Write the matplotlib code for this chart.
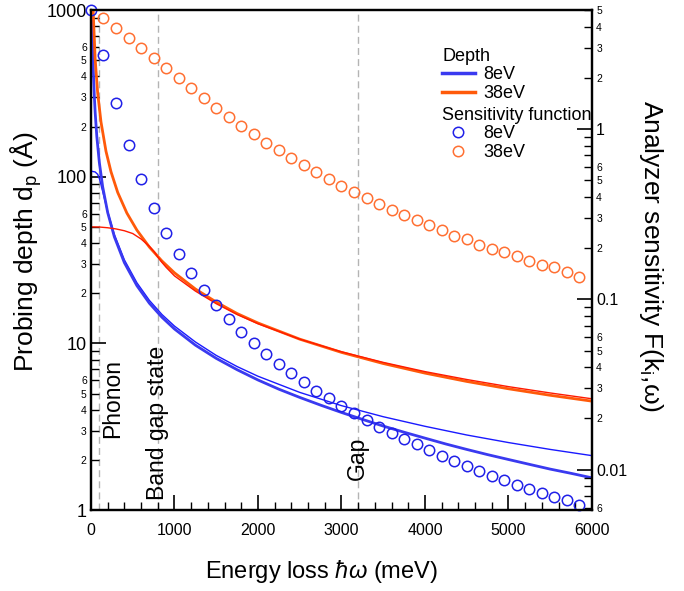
import numpy as np
import matplotlib
matplotlib.use("Agg")
from matplotlib import pyplot as plt
from matplotlib.ticker import MultipleLocator, LogLocator, FuncFormatter
from matplotlib.lines import Line2D

plt.rcParams['font.family'] = ['Liberation Sans', 'DejaVu Sans']
plt.rcParams['mathtext.fontset'] = 'custom'
plt.rcParams['mathtext.rm'] = 'Liberation Sans'
plt.rcParams['mathtext.it'] = 'Liberation Sans:italic'

# depth curves (left axis, Angstrom)
e_d8 = [10, 15, 20, 30, 40, 50, 70, 100, 140, 200, 280, 400, 550, 700, 850, 1000,
        1250, 1500, 1750, 2000, 2250, 2500, 2750, 3000, 3250, 3500, 3750, 4000,
        4250, 4500, 4750, 5000, 5250, 5500, 5750, 6000]
d8_thick = [1220, 813, 610, 407, 305, 244, 174, 122, 87.1, 61, 43.6, 30.5, 22.2, 17.4, 14.35, 12.2,
            9.76, 8.13, 6.95, 6.03, 5.31, 4.74, 4.26, 3.85, 3.50, 3.19, 2.93, 2.70,
            2.49, 2.31, 2.15, 2.01, 1.88, 1.76, 1.66, 1.56]

e_t8 = [0, 50, 80, 100, 120, 140, 170, 200, 280, 400, 550, 700, 850, 1000, 1250, 1500,
        1750, 2000, 2500, 3000, 3500, 4000, 4500, 5000, 5500, 6000]
d8_thin = [108, 106.8, 103.4, 97.6, 89.7, 81.7, 70.8, 61.7, 45.0, 31.7, 23.1, 18.1, 14.9, 12.7, 10.2, 8.47,
           7.26, 6.35, 5.08, 4.23, 3.63, 3.18, 2.82, 2.54, 2.31, 2.12]

e_d38 = [25, 50, 80, 120, 180, 240, 320, 430, 550, 700, 850, 1000, 1250, 1500, 1750, 2000,
         2500, 3000, 3500, 4000, 4500, 5000, 5500, 6000]
d38_thick = [1020, 510, 319, 213, 142, 107, 80.5, 60.5, 47.8, 37.8, 31.2, 26.5, 21.2, 17.7, 15.1, 13.25,
             10.6, 8.83, 7.57, 6.63, 5.91, 5.34, 4.88, 4.5]

e_t38 = [0, 100, 200, 300, 400, 500, 600, 700, 760, 800, 850, 900, 1000, 1250, 1500, 1750,
         2000, 2500, 3000, 3500, 4000, 4500, 5000, 5500, 6000]
d38_thin = [50, 49.9, 49.4, 48.6, 47.4, 45.6, 42.3, 38.2, 35.3, 33.0, 30.6, 28.6, 25.4, 20.6, 17.3, 14.9,
            13.12, 10.6, 8.9, 7.69, 6.77, 6.07, 5.5, 5.04, 4.65]

# sensitivity function (right axis)
e_sens = np.arange(0, 5851, 150)
sens_8 = [5.0, 2.74, 1.43, 0.811, 0.507, 0.344, 0.246, 0.184, 0.142, 0.114,
          0.0929, 0.0768, 0.0647, 0.0552, 0.0480, 0.0419, 0.0369, 0.0326, 0.0291, 0.0264,
          0.0237, 0.0214, 0.0196, 0.0179, 0.0164, 0.0151, 0.0141, 0.0131, 0.0121, 0.0112,
          0.0105, 0.00984, 0.00920, 0.00868, 0.00815, 0.00768, 0.00728, 0.00692, 0.00662, 0.00621]
sens_38 = [4.51, 3.92, 3.44, 3.00, 2.61, 2.28, 1.99, 1.74, 1.52, 1.33,
           1.17, 1.04, 0.932, 0.829, 0.750, 0.673, 0.613, 0.557, 0.507, 0.461,
           0.425, 0.392, 0.361, 0.335, 0.311, 0.291, 0.272, 0.254, 0.237, 0.225,
           0.210, 0.199, 0.189, 0.179, 0.169, 0.160, 0.154, 0.144, 0.136]

marks = [100, 800, 3200]
mark_labels = ["Phonon", "Band gap state", "Gap"]
mark_text_x = [258, 800, 3190]
mark_text_y = [2.7, 1.15, 1.51]

c_blue = '#3a3af0'
c_blue_thin = '#1a1aff'
c_orange = '#ff5a0a'
c_red = '#ff1a00'
c_circ_blue = '#2020e8'
c_circ_orange = '#ff7033'

fig = plt.figure(figsize=(6.84, 5.91), dpi=100)
ax = fig.add_axes([0.133, 0.137, 0.7325, 0.846])

for m in marks:
    ax.axvline(m, color='#b4b4b4', ls=(0, (5, 3)), lw=1, zorder=1)

ax.plot(e_t8, d8_thin, color=c_blue_thin, lw=1.0, zorder=3)
ax.plot(e_d8, d8_thick, color=c_blue, lw=2.0, zorder=3)
ax.plot(e_d38, d38_thick, color=c_orange, lw=2.0, zorder=3)
ax.plot(e_t38, d38_thin, color=c_red, lw=1.0, zorder=4)

for x, y, s in zip(mark_text_x, mark_text_y, mark_labels):
    ax.text(x, y, s, rotation=90, ha='center', va='bottom', fontsize=16.5)

ax.set_xlim(0, 6000)
ax.set_yscale('log')
ax.set_ylim(1, 1000)
ax.xaxis.set_major_locator(MultipleLocator(1000))
ax.xaxis.set_minor_locator(MultipleLocator(200))


def major_fmt(v, p):
    return f'{v:g}'


def minor_fmt(v, p):
    m = int(round(v / 10 ** np.floor(np.log10(v) + 1e-9)))
    return str(m) if 2 <= m <= 6 else ''


ax.yaxis.set_major_locator(LogLocator(base=10, numticks=20))
ax.yaxis.set_minor_locator(LogLocator(base=10, subs=np.arange(2, 10), numticks=20))
ax.yaxis.set_major_formatter(FuncFormatter(major_fmt))
ax.yaxis.set_minor_formatter(FuncFormatter(minor_fmt))

ax.tick_params(axis='x', which='both', direction='in', top=False, labelsize=11.5, pad=9)
ax.tick_params(axis='x', which='major', length=11, width=1.2)
ax.tick_params(axis='x', which='minor', length=6, width=1)
ax.tick_params(axis='y', which='both', direction='in', right=False, pad=3)
ax.tick_params(axis='y', which='major', length=11, width=1.2, labelsize=13)
ax.tick_params(axis='y', which='minor', length=6, width=1, labelsize=7.5)
for sp in ax.spines.values():
    sp.set_linewidth(1.6)

ax.set_xlabel('Energy loss $\\hbar\\omega$ (meV)', fontsize=17)
ax.xaxis.set_label_coords(0.461, -0.096)
ax.set_ylabel('Probing depth d$_\\mathregular{p}$ (Å)', fontsize=19)
ax.yaxis.set_label_coords(-0.094, 0.516)

ax2 = ax.twinx()
ax2.plot(e_sens[1:], sens_38, 'o', ms=7.5, mfc='none', mec=c_circ_orange, mew=1.1, clip_on=False)
ax2.plot(e_sens, sens_8, 'o', ms=7.5, mfc='none', mec=c_circ_blue, mew=1.1, clip_on=False)
ax2.set_yscale('log')
ax2.set_ylim(0.0058, 5)
ax2.yaxis.set_major_locator(LogLocator(base=10, numticks=20))
ax2.yaxis.set_minor_locator(LogLocator(base=10, subs=np.arange(2, 10), numticks=20))
ax2.yaxis.set_major_formatter(FuncFormatter(major_fmt))
ax2.yaxis.set_minor_formatter(FuncFormatter(minor_fmt))
ax2.tick_params(axis='y', which='both', direction='in', pad=3)
ax2.tick_params(axis='y', which='major', length=11, width=1.2, labelsize=11.5)
ax2.tick_params(axis='y', which='minor', length=6, width=1, labelsize=7.5)
for sp in ax2.spines.values():
    sp.set_linewidth(1.6)
ax2.set_ylabel('Analyzer sensitivity F(k$_\\mathregular{i}$,ω)', fontsize=19,
               rotation=270, va='bottom')
ax2.yaxis.set_label_coords(1.09, 0.508)

h1 = [Line2D([], [], color=c_blue, lw=2.5), Line2D([], [], color=c_orange, lw=2.5)]
leg1 = ax2.legend(h1, ['8eV', '38eV'], title='Depth', loc='upper left',
                  bbox_to_anchor=(0.683, 0.943), frameon=False, fontsize=13,
                  title_fontsize=13, alignment='left', borderpad=0,
                  handlelength=1.8, handletextpad=0.5, labelspacing=0.1)
ax2.add_artist(leg1)
h2 = [Line2D([], [], ls='none', marker='o', ms=7.5, mfc='none', mec=c_circ_blue, mew=1.1),
      Line2D([], [], ls='none', marker='o', ms=7.5, mfc='none', mec=c_circ_orange, mew=1.1)]
ax2.legend(h2, ['8eV', '38eV'], title='Sensitivity function', loc='upper left',
           bbox_to_anchor=(0.683, 0.825), frameon=False, fontsize=13,
           title_fontsize=13, alignment='left', borderpad=0,
           handlelength=1.8, handletextpad=0.5, labelspacing=0.1)

fig.savefig('out.png', dpi=100)
